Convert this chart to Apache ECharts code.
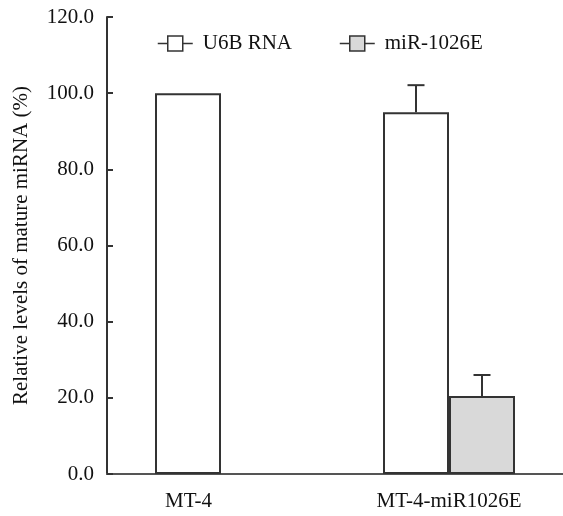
<!DOCTYPE html>
<html>
<head>
<meta charset="utf-8">
<script src="https://cdn.jsdelivr.net/npm/echarts@6/dist/echarts.min.js"></script>
<style>html,body{margin:0;padding:0;background:#fff;}#chart{width:563px;height:516px;}</style>
</head>
<body>
<div id="chart"></div>
<script>
var categories = ['MT-4', 'MT-4-miR1026E'];
var seriesNames = ['U6B RNA', 'miR-1026E'];
var u6bValues = [100.0, 95.0];
var u6bErrors = [null, 7.1];
var mirValues = [null, 20.5];
var mirErrors = [null, 5.5];
var yTicks = [0, 20, 40, 60, 80, 100, 120];

var FONT = '"Liberation Serif", "Times New Roman", serif';
var BAR_W = 66;
var chart = echarts.init(document.getElementById('chart'), null, {renderer: 'canvas'});

function errData(vals, errs) {
  var out = [];
  for (var i = 0; i < vals.length; i++) {
    if (vals[i] != null && errs[i] != null) out.push([i, vals[i], vals[i] + errs[i]]);
  }
  return out;
}
function errSeries(data, sideSign) {
  return {
    type: 'custom',
    xAxisIndex: 0, yAxisIndex: 0,
    silent: true,
    z: 5,
    data: data,
    encode: {x: 0, y: [1, 2]},
    renderItem: function (params, api) {
      var c = api.value(0);
      var lo = api.coord([c, api.value(1)]);
      var hi = api.coord([c, api.value(2)]);
      var x = lo[0] + sideSign * BAR_W / 2;
      var half = 8.5;
      var st = {stroke: '#333', lineWidth: 2};
      return {type: 'group', children: [
        {type: 'line', shape: {x1: x, y1: lo[1], x2: x, y2: hi[1]}, style: st},
        {type: 'line', shape: {x1: x - half, y1: hi[1], x2: x + half, y2: hi[1]}, style: st}
      ]};
    }
  };
}

var iconPath = 'path://M0,7.5L10,7.5M10,0L25,0L25,15L10,15ZM25,7.5L35,7.5';

var option = {
  backgroundColor: '#fff',
  animation: false,
  textStyle: {fontFamily: FONT},
  grid: {left: 107, top: 17, width: 457, bottom: 42, containLabel: false},
  legend: {
    left: 157, top: 33, padding: 0,
    itemWidth: 35, itemHeight: 15, itemGap: 47,
    textStyle: {fontFamily: FONT, fontSize: 21, color: '#111', padding: [0, 0, 0, 5]},
    itemStyle: {borderColor: '#333', borderWidth: 1.5},
    data: [
      {name: seriesNames[0], icon: iconPath},
      {name: seriesNames[1], icon: iconPath}
    ]
  },
  xAxis: {
    type: 'category',
    data: [
      {value: categories[0], textStyle: {padding: [0, 65, 0, 0]}},
      {value: categories[1]}
    ],
    boundaryGap: true,
    axisLine: {show: true, lineStyle: {color: '#555', width: 2}},
    axisTick: {show: false},
    axisLabel: {fontFamily: FONT, fontSize: 21, color: '#111', margin: 17},
    splitLine: {show: false}
  },
  yAxis: {
    type: 'value',
    min: yTicks[0], max: yTicks[yTicks.length - 1], interval: 20,
    name: 'Relative levels of mature miRNA (%)',
    nameLocation: 'middle',
    nameGap: 75,
    nameTextStyle: {fontFamily: FONT, fontSize: 21, color: '#111'},
    axisLine: {show: true, lineStyle: {color: '#333', width: 2}},
    axisTick: {show: true, inside: true, length: 6, lineStyle: {color: '#333', width: 2}},
    axisLabel: {fontFamily: FONT, fontSize: 21, color: '#111', margin: 13,
      formatter: function (v) { return v.toFixed(1); }},
    splitLine: {show: false}
  },
  series: [
    {
      name: seriesNames[0], type: 'bar', data: u6bValues,
      barWidth: BAR_W, barGap: '0%',
      itemStyle: {color: '#ffffff', borderColor: '#333', borderWidth: 2}
    },
    {
      name: seriesNames[1], type: 'bar', data: mirValues,
      barWidth: BAR_W, barGap: '0%',
      itemStyle: {color: '#d9d9d9', borderColor: '#333', borderWidth: 2}
    },
    errSeries(errData(u6bValues, u6bErrors), -1),
    errSeries(errData(mirValues, mirErrors), 1)
  ]
};
chart.setOption(option);
</script>
</body>
</html>
